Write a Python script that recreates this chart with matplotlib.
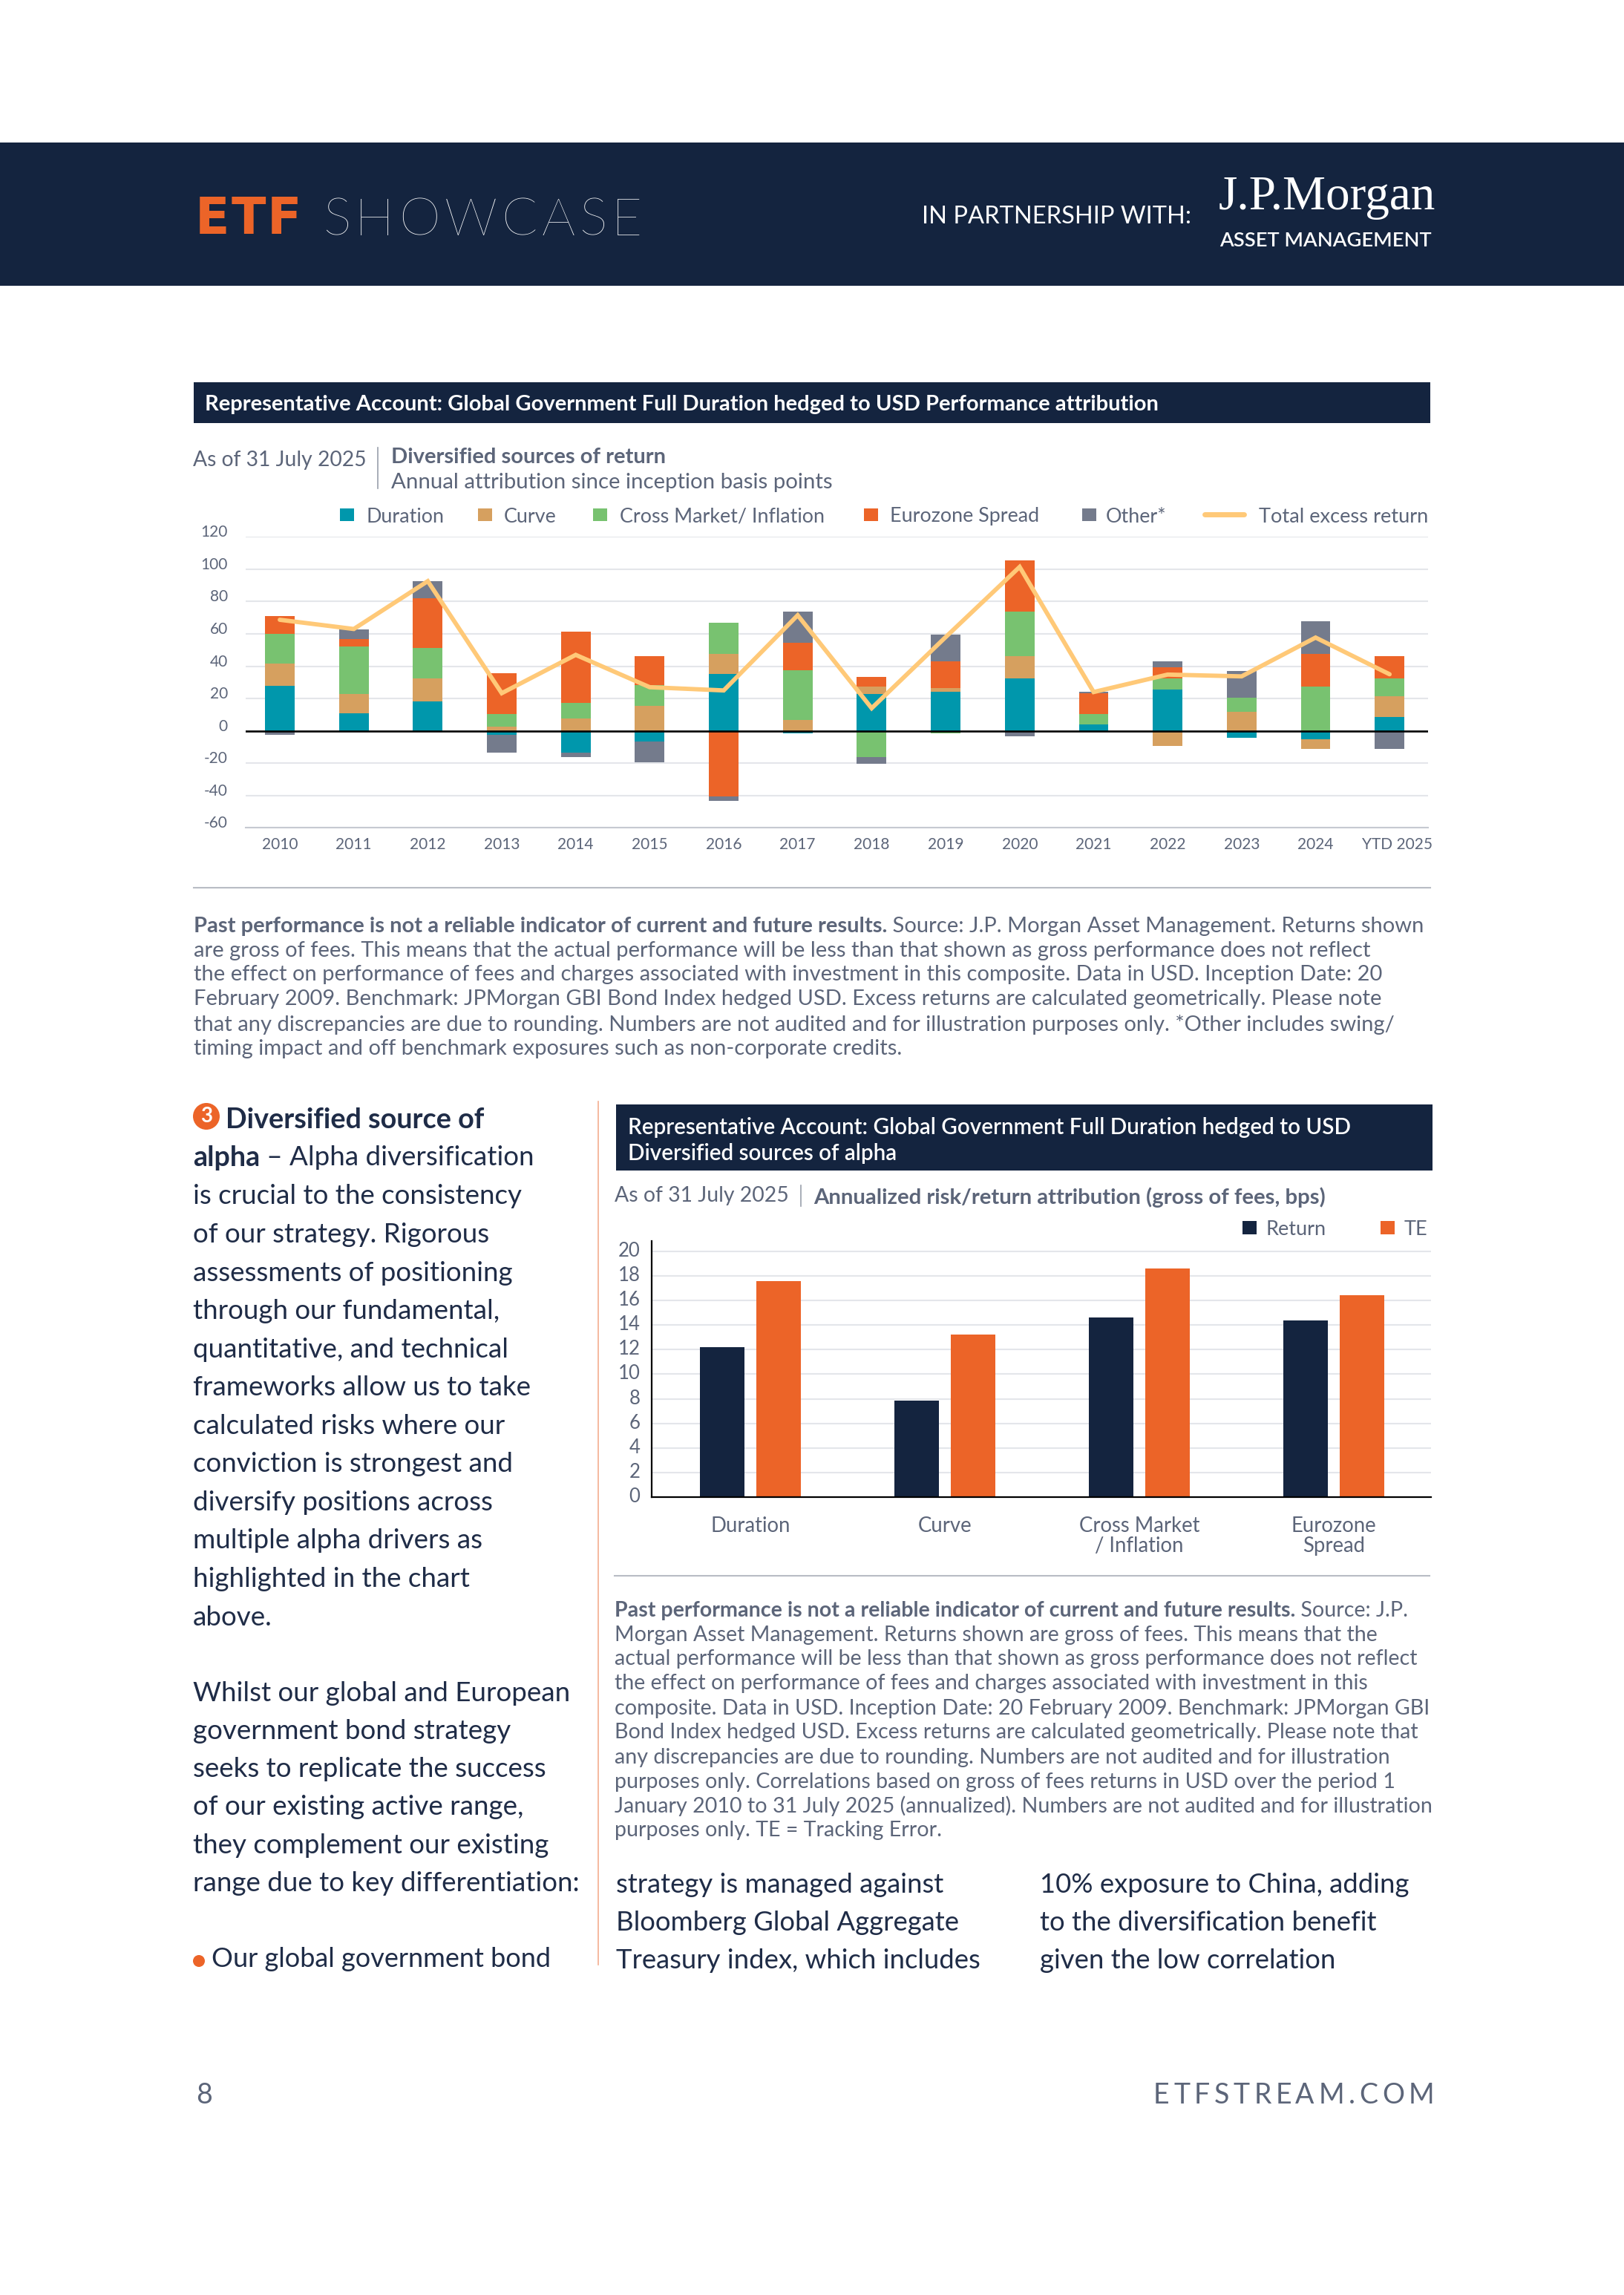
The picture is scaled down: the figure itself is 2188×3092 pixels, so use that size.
import matplotlib
matplotlib.use("Agg")
import matplotlib.pyplot as plt
from matplotlib.patches import Rectangle, Circle
from matplotlib.transforms import ScaledTranslation
import numpy as np

plt.rcParams['font.family'] = ['Lato', 'DejaVu Sans']
plt.rcParams['axes.unicode_minus'] = False

W, H = 2188, 3092
NAVY = "#14243f"
ORANGE = "#ec6428"
TEXT = "#5c6579"
BODY = "#1f2c47"
GRID = "#e4e6ea"

# chart 1 data
years = ["2010", "2011", "2012", "2013", "2014", "2015", "2016", "2017", "2018",
         "2019", "2020", "2021", "2022", "2023", "2024", "YTD 2025"]
duration = [28, 11, 18, -2.5, -13.6, -6.6, 35, -1.7, 23, 24, 32.5, 4, 25.6, -4.1, -5, 8.6]
curve = [13.6, 12, 14.5, 2.6, 7.7, 15.3, 12.8, 6.7, 4.4, 2.6, 13.6, 0, -9.3, 12, -6, 12.7]
cross = [18.5, 29, 18.7, 7.7, 9.5, 13, 19.3, 30.8, -16.2, -1.7, 27.7, 6.3, 6.9, 8.4, 27.4, 11.2]
euro = [11, 4.6, 31, 25.5, 44, 17.8, -40.7, 17, 5.8, 16.4, 31.7, 12.8, 6.9, 0, 20.4, 13.5]
other = [-2.6, 6, 10.4, -11, -2.6, -13, -2.8, 19.3, -4.2, 16.4, -3.4, 1, 3.5, 16.4, 20, -11]
total = [68.7, 63, 92.6, 23.3, 47, 27, 25, 71.5, 14, 58, 101.4, 24, 34.8, 33.7, 57.7, 35]
series_names = ["Duration", "Curve", "Cross Market/ Inflation", "Eurozone Spread", "Other*"]
series_colors = ["#0097ac", "#d6a05f", "#78c270", "#ec6428", "#747b8c"]
y1_ticks = [-60, -40, -20, 0, 20, 40, 60, 80, 100, 120]

# chart 2 data
groups = ["Duration", "Curve", "Cross Market\n/ Inflation", "Eurozone\nSpread"]
ret = [12.2, 7.85, 14.6, 14.4]
te = [17.6, 13.2, 18.6, 16.4]
y2_ticks = list(range(0, 21, 2))

# page text
note1 = [
    ("Past performance is not a reliable indicator of current and future results.", " Source: J.P. Morgan Asset Management. Returns shown"),
    ("", "are gross of fees. This means that the actual performance will be less than that shown as gross performance does not reflect"),
    ("", "the effect on performance of fees and charges associated with investment in this composite. Data in USD. Inception Date: 20"),
    ("", "February 2009. Benchmark: JPMorgan GBI Bond Index hedged USD. Excess returns are calculated geometrically. Please note"),
    ("", "that any discrepancies are due to rounding. Numbers are not audited and for illustration purposes only. *Other includes swing/"),
    ("", "timing impact and off benchmark exposures such as non-corporate credits."),
]
note2 = [
    ("Past performance is not a reliable indicator of current and future results.", " Source: J.P."),
    ("", "Morgan Asset Management. Returns shown are gross of fees. This means that the"),
    ("", "actual performance will be less than that shown as gross performance does not reflect"),
    ("", "the effect on performance of fees and charges associated with investment in this"),
    ("", "composite. Data in USD. Inception Date: 20 February 2009. Benchmark: JPMorgan GBI"),
    ("", "Bond Index hedged USD. Excess returns are calculated geometrically. Please note that"),
    ("", "any discrepancies are due to rounding. Numbers are not audited and for illustration"),
    ("", "purposes only. Correlations based on gross of fees returns in USD over the period 1"),
    ("", "January 2010 to 31 July 2025 (annualized). Numbers are not audited and for illustration"),
    ("", "purposes only. TE = Tracking Error."),
]
left_col = ["alpha", "is crucial to the consistency", "of our strategy. Rigorous",
            "assessments of positioning", "through our fundamental,", "quantitative, and technical",
            "frameworks allow us to take", "calculated risks where our", "conviction is strongest and",
            "diversify positions across", "multiple alpha drivers as", "highlighted in the chart", "above."]
left_col2 = ["Whilst our global and European", "government bond strategy", "seeks to replicate the success",
             "of our existing active range,", "they complement our existing", "range due to key differentiation:"]
mid_col = ["strategy is managed against", "Bloomberg Global Aggregate", "Treasury index, which includes"]
right_col = ["10% exposure to China, adding", "to the diversification benefit", "given the low correlation"]

fig = plt.figure(figsize=(W / 100, H / 100), dpi=100, facecolor="white")
page = fig.add_axes([0, 0, 1, 1])
page.set_xlim(0, W)
page.set_ylim(H, 0)
page.axis("off")


def px_axes(x0, y0, x1, y1):
    return fig.add_axes([x0 / W, 1 - y1 / H, (x1 - x0) / W, (y1 - y0) / H])


def put(x, y, s, size=19, color=TEXT, weight="normal", ha="left", **kw):
    return page.text(x, y + 2, s, fontsize=size, color=color, fontweight=weight,
                     ha=ha, va="center", **kw)


def spaced(x0, x1, y, s, size, color, weight="normal", **kw):
    # letter spaced text, one character at a time
    r = fig.canvas.get_renderer()
    items = [put(0, y, c, size, color, weight, **kw) for c in s]
    widths = [t.get_window_extent(r).width for t in items]
    gap = (x1 - x0 - sum(widths)) / (len(s) - 1)
    x = x0
    for t, w in zip(items, widths):
        t.set_x(x)
        x += w + gap


def rect(x0, y0, x1, y1, color):
    page.add_patch(Rectangle((x0, y0), x1 - x0, y1 - y0, facecolor=color, edgecolor="none"))


def hline(y, x0, x1, color, lw=1.2):
    page.plot([x0, x1], [y, y], color=color, lw=lw)


def vline(x, y0, y1, color, lw=1.2):
    page.plot([x, x], [y0, y1], color=color, lw=lw)


def notes(x, ys, lines, size):
    r = fig.canvas.get_renderer()
    for y, (b, rest) in zip(ys, lines):
        xx = x
        if b:
            t = put(xx, y, b, size, TEXT, "bold")
            xx = t.get_window_extent(r).x1
        put(xx, y, rest, size, TEXT)


def shift(label, dx, dy):
    label.set_transform(label.get_transform() + ScaledTranslation(dx / 100, dy / 100, fig.dpi_scale_trans))


# header band
rect(0, 192, W, 385, NAVY)
spaced(263, 406, 294, "ETF", 49, ORANGE, "bold", family="DejaVu Sans")
spaced(435, 865, 296, "SHOWCASE", 51, "white", "light")
put(1242, 290, "IN PARTNERSHIP WITH:", 23.5, "white")
page.text(1642, 266, "J.P.Morgan", fontsize=47, color="white", family="Liberation Serif", ha="left", va="center")
put(1643, 322, "ASSET MANAGEMENT", 19.6, "white", "semibold")

# chart 1 titles
rect(261, 515, 1927, 570, NAVY)
put(276, 543, "Representative Account: Global Government Full Duration hedged to USD Performance attribution",
    21, "white", "bold")
put(260, 618, "As of 31 July 2025", 20.3, TEXT)
vline(509, 603, 658, "#9aa0ac")
put(527, 614, "Diversified sources of return", 21, TEXT, "bold")
put(527, 648, "Annual attribution since inception basis points", 21.2, TEXT)

# chart 1 legend
legend_x = [(458, 494), (644, 679), (799, 835), (1164, 1199), (1458, 1490)]
for (mx, tx), name, c in zip(legend_x, series_names, series_colors):
    rect(mx, 685, mx + 19, 702, c)
    put(tx, 694, name, 19.4, TEXT)
page.plot([1623, 1676], [693, 693], color="#ffc978", lw=5, solid_capstyle="round")
put(1696, 694, "Total excess return", 19.6, TEXT)

# chart 1
ax = px_axes(330.5, 723.3, 1924, 1115.3)
x = np.arange(len(years))
pos = np.zeros(len(years))
neg = np.zeros(len(years))
for vals, c in zip([duration, curve, cross, euro, other], series_colors):
    vals = np.array(vals)
    base = np.where(vals >= 0, pos, neg)
    ax.bar(x, vals, 0.40, bottom=base, color=c, zorder=2)
    pos = pos + np.clip(vals, 0, None)
    neg = neg + np.clip(vals, None, 0)
ax.axhline(0, color="black", lw=1.9, zorder=3)
ax.plot(x, total, color="#ffc978", lw=4.2, zorder=4, solid_capstyle="round", solid_joinstyle="miter")
ax.set_xlim(-0.466, 15.52)
ax.set_ylim(-60, 120)
ax.set_yticks(y1_ticks)
ax.set_xticks(x)
ax.set_xticklabels(years)
ax.grid(axis="y", color=GRID, lw=1.5, zorder=0)
ax.set_axisbelow(True)
for s in ["top", "left", "right"]:
    ax.spines[s].set_visible(False)
ax.spines["bottom"].set_color("#c6cad1")
ax.spines["bottom"].set_linewidth(1.5)
ax.tick_params(length=0, labelsize=15, labelcolor=TEXT)
ax.tick_params(axis="y", pad=17)
ax.tick_params(axis="x", pad=9)
for lab in ax.get_yticklabels():
    lab.set_verticalalignment("bottom")
    shift(lab, 0, -4)
shift(ax.get_xticklabels()[-1], 10, 0)

hline(1196, 261, 1927, "#b8bcc4", 1.5)
notes(261, [1246, 1279, 1311, 1344, 1378, 1411], note1, 21)

# left column
page.add_patch(Circle((278, 1504), 18, facecolor=ORANGE, edgecolor="none"))
put(278, 1502, "3", 20, "white", "bold", ha="center")
put(304, 1507, "Diversified source of", 27.2, BODY, "bold")
r = fig.canvas.get_renderer()
t = put(260, 1558, "alpha", 27.2, BODY, "bold")
put(t.get_window_extent(r).x1, 1558, " \u2013 Alpha diversification", 26.5, BODY)
for i, s in enumerate(left_col[1:]):
    put(260, 1610 + i * 51.55, s, 26.5, BODY)
for i, s in enumerate(left_col2):
    put(260, 2279 + i * 51.3, s, 26.5, BODY)
page.add_patch(Circle((268, 2642), 8, facecolor=ORANGE, edgecolor="none"))
put(285, 2638, "Our global government bond", 26, BODY)

vline(806, 1484, 2647, "#f4ad90", 1.2)

# chart 2 titles
rect(830, 1488, 1930, 1577, NAVY)
put(846, 1517, "Representative Account: Global Government Full Duration hedged to USD", 21.3, "white", "semibold")
put(846, 1552, "Diversified sources of alpha", 21.3, "white", "semibold")
put(828, 1609, "As of 31 July 2025", 20.4, TEXT)
vline(1079, 1597, 1625, "#9aa0ac")
put(1096, 1611, "Annualized risk/return attribution (gross of fees, bps)", 21.2, TEXT, "bold")

rect(1674, 1645, 1693, 1663, NAVY)
put(1706, 1655, "Return", 19.5, TEXT)
rect(1860, 1645, 1879, 1663, ORANGE)
put(1892, 1655, "TE", 19.5, TEXT)

# chart 2
ax2 = px_axes(877.7, 1671.7, 1928, 2017)
g = np.arange(len(groups))
ax2.bar(g - 0.145, ret, 0.228, color=NAVY, zorder=2)
ax2.bar(g + 0.145, te, 0.228, color=ORANGE, zorder=2)
ax2.set_xlim(-0.51, 3.50)
ax2.set_ylim(0, 20.85)
ax2.set_yticks(y2_ticks)
ax2.set_xticks(g)
ax2.set_xticklabels(groups, linespacing=1.08)
ax2.grid(axis="y", color=GRID, lw=1.5, zorder=0)
ax2.set_axisbelow(True)
for s in ["top", "right"]:
    ax2.spines[s].set_visible(False)
for s in ["left", "bottom"]:
    ax2.spines[s].set_color("black")
    ax2.spines[s].set_linewidth(1.6)
ax2.tick_params(length=0, labelcolor=TEXT)
ax2.tick_params(axis="y", labelsize=18.5, pad=11)
ax2.tick_params(axis="x", labelsize=19.8, pad=18.5)
for lab in ax2.get_yticklabels():
    shift(lab, 0, 3)

hline(2123, 828, 1926, "#b8bcc4", 1.5)
notes(828, [2168, 2201, 2233, 2266, 2300, 2332, 2366, 2399, 2431, 2464], note2, 20.6)

# bottom columns
for i, (a, b) in enumerate(zip(mid_col, right_col)):
    put(830, 2537 + i * 51.5, a, 26.3, BODY)
    put(1401, 2537 + i * 51.5, b, 26.3, BODY)

# footer
put(264, 2821, "8", 27, TEXT, "normal")
spaced(1554, 1932, 2821, "ETFSTREAM.COM", 27, TEXT)

fig.savefig("out.png", dpi=100, facecolor="white")
